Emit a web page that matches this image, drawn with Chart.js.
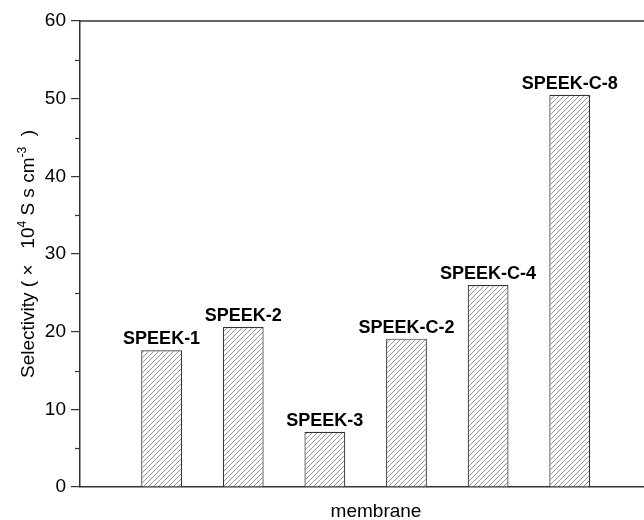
<!DOCTYPE html>
<html>
<head>
<meta charset="utf-8">
<script src="https://cdn.jsdelivr.net/npm/chart.js@4.4.1/dist/chart.umd.min.js"></script>
<style>
    html, body { margin: 0; padding: 0; background: #fff; }
    #wrap { width: 644px; height: 520px; }
</style>
</head>
<body>
<div id="wrap"><canvas id="graficaSelectividad" width="644" height="520"></canvas></div>
<script>
const membranas = ['SPEEK-1', 'SPEEK-2', 'SPEEK-3', 'SPEEK-C-2', 'SPEEK-C-4', 'SPEEK-C-8'];
const selectividad = [17.6, 20.6, 7.1, 19.1, 26.0, 50.5];
const ticksY = [0, 10, 20, 30, 40, 50, 60];

const FUENTE = '"Liberation Sans", Arial, sans-serif';

function crearRayado() {
    const tile = document.createElement('canvas');
    tile.width = 5;
    tile.height = 5;
    const c = tile.getContext('2d');
    c.fillStyle = '#fff';
    c.fillRect(0, 0, 5, 5);
    c.strokeStyle = '#666';
    c.lineWidth = 0.7;
    c.beginPath();
    c.moveTo(-1, 6); c.lineTo(6, -1);
    c.moveTo(-1, 1); c.lineTo(1, -1);
    c.moveTo(4, 6); c.lineTo(6, 4);
    c.stroke();
    return c.createPattern(tile, 'repeat');
}

// etiquetas encima de cada barra
const etiquetasBarras = {
    id: 'etiquetasBarras',
    afterDatasetsDraw(chart) {
        const ctx = chart.ctx;
        const meta = chart.getDatasetMeta(0);
        ctx.save();
        ctx.font = 'bold 18px ' + FUENTE;
        ctx.fillStyle = '#000';
        ctx.textAlign = 'center';
        ctx.textBaseline = 'alphabetic';
        meta.data.forEach((bar, i) => {
            ctx.fillText(membranas[i], bar.x, bar.y - 6);
        });
        ctx.restore();
    }
};

// marco superior, ticks menores y titulos de ejes
const marcoYTitulos = {
    id: 'marcoYTitulos',
    afterDraw(chart) {
        const ctx = chart.ctx;
        const area = chart.chartArea;
        const y = chart.scales.y;
        ctx.save();
        ctx.strokeStyle = '#333';
        ctx.lineWidth = 1.5;
        ctx.beginPath();
        ctx.moveTo(area.left, area.top);
        ctx.lineTo(chart.width, area.top);
        ctx.stroke();

        // ticks menores a mitad de cada intervalo
        ctx.lineWidth = 1.2;
        for (let i = 0; i < ticksY.length - 1; i++) {
            const v = (ticksY[i] + ticksY[i + 1]) / 2;
            const py = Math.round(y.getPixelForValue(v)) + 0.5;
            ctx.beginPath();
            ctx.moveTo(area.left - 5, py);
            ctx.lineTo(area.left, py);
            ctx.stroke();
        }

        // titulo eje x
        ctx.fillStyle = '#000';
        ctx.font = '19px ' + FUENTE;
        ctx.textAlign = 'center';
        ctx.textBaseline = 'alphabetic';
        ctx.fillText('membrane', 376, 517);

        // titulo eje y con superindices
        const partes = [
            { t: 'Selectivity ( \u00d7   10', sup: false },
            { t: '4', sup: true },
            { t: ' S s cm', sup: false },
            { t: '-3', sup: true },
            { t: '  )', sup: false }
        ];
        const fNormal = '19px ' + FUENTE;
        const fSup = '12px ' + FUENTE;
        let total = 0;
        partes.forEach(p => {
            ctx.font = p.sup ? fSup : fNormal;
            p.w = ctx.measureText(p.t).width;
            total += p.w;
        });
        ctx.translate(34, (area.top + area.bottom) / 2);
        ctx.rotate(-Math.PI / 2);
        ctx.textAlign = 'left';
        let x = -total / 2;
        partes.forEach(p => {
            ctx.font = p.sup ? fSup : fNormal;
            ctx.fillText(p.t, x, p.sup ? -8 : 0);
            x += p.w;
        });
        ctx.restore();
    }
};

function initChart() {
    const ctx = document.getElementById('graficaSelectividad').getContext('2d');
    new Chart(ctx, {
        type: 'bar',
        data: {
            datasets: [{
                label: 'Selectivity',
                data: selectividad.map((v, i) => ({ x: i + 1, y: v })),
                backgroundColor: crearRayado(),
                borderColor: '#333',
                borderWidth: 1.2,
                barPercentage: 0.5,
                categoryPercentage: 1
            }]
        },
        options: {
            responsive: false,
            animation: false,
            layout: { padding: { top: 21, left: 0, right: 0, bottom: 0 } },
            plugins: {
                legend: { display: false },
                tooltip: { enabled: false }
            },
            scales: {
                x: {
                    type: 'linear',
                    min: 0,
                    max: 6.91,
                    offset: false,
                    grid: { display: false, offset: false, drawTicks: false },
                    border: { display: true, color: '#333', width: 1.5 },
                    ticks: { display: false, stepSize: 1, includeBounds: false },
                    afterFit(scale) { scale.height = 33; }
                },
                y: {
                    min: 0,
                    max: 60,
                    grid: { drawOnChartArea: false, drawTicks: true, tickLength: 9, color: '#333', lineWidth: 1.2 },
                    border: { display: true, color: '#333', width: 1.5 },
                    ticks: {
                        stepSize: 10,
                        padding: 5,
                        color: '#000',
                        font: { family: FUENTE, size: 19 }
                    },
                    afterFit(scale) { scale.width = 80; }
                }
            }
        },
        plugins: [etiquetasBarras, marcoYTitulos]
    });
}

document.addEventListener('DOMContentLoaded', initChart);
</script>
</body>
</html>
